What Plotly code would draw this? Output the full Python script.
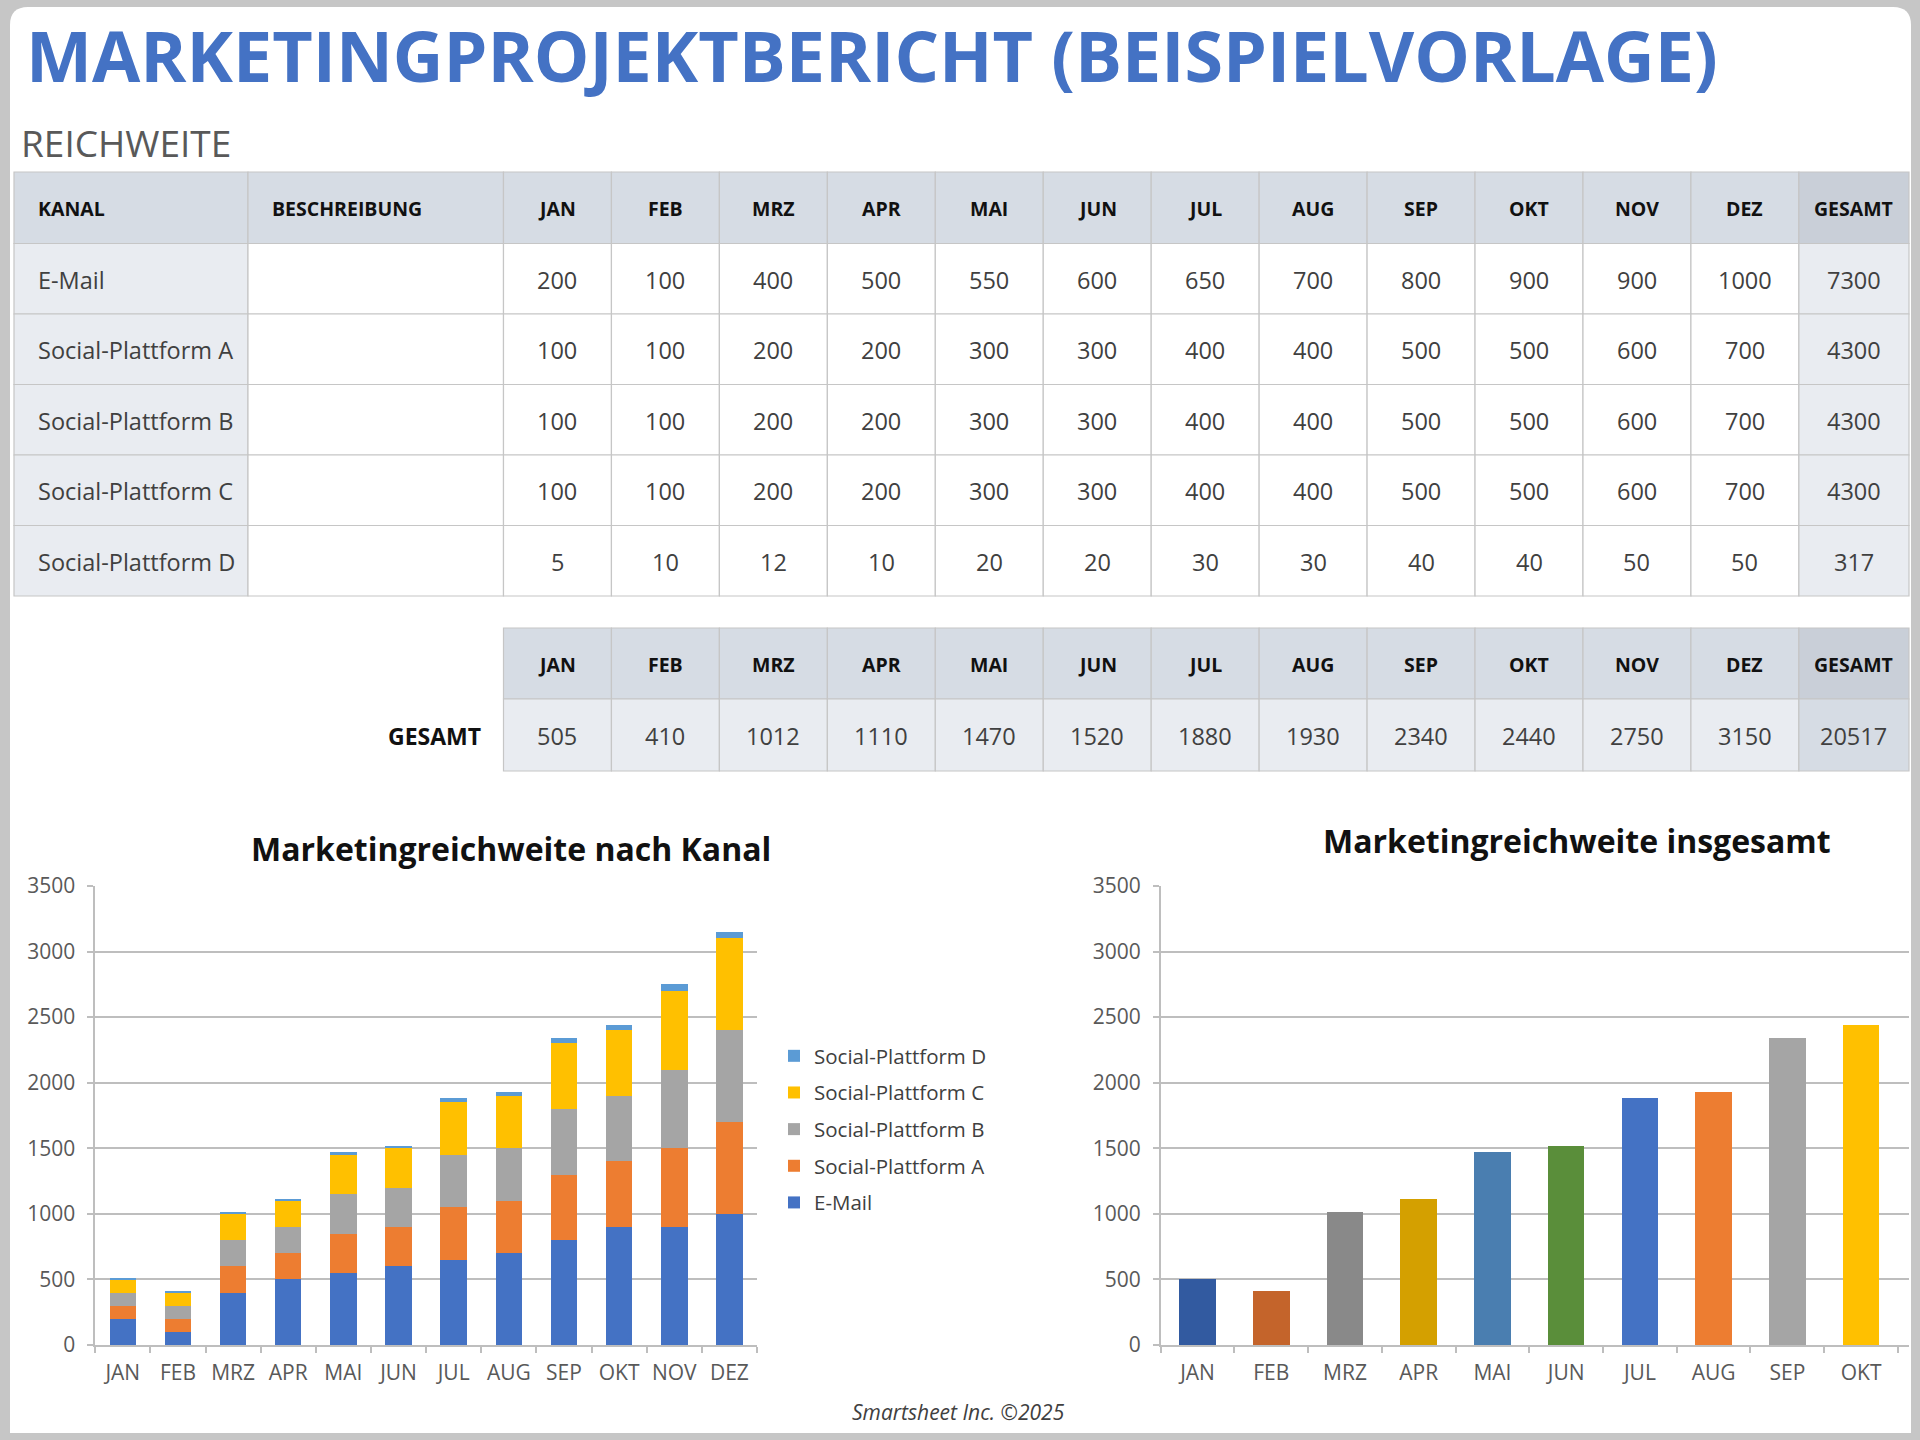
import plotly.graph_objects as go

# ---------------- data ----------------
months = ["JAN", "FEB", "MRZ", "APR", "MAI", "JUN", "JUL", "AUG", "SEP", "OKT", "NOV", "DEZ"]
channels = ["E-Mail", "Social-Plattform A", "Social-Plattform B", "Social-Plattform C", "Social-Plattform D"]
email = [200, 100, 400, 500, 550, 600, 650, 700, 800, 900, 900, 1000]
plat_a = [100, 100, 200, 200, 300, 300, 400, 400, 500, 500, 600, 700]
plat_b = [100, 100, 200, 200, 300, 300, 400, 400, 500, 500, 600, 700]
plat_c = [100, 100, 200, 200, 300, 300, 400, 400, 500, 500, 600, 700]
plat_d = [5, 10, 12, 10, 20, 20, 30, 30, 40, 40, 50, 50]
channel_totals = [7300, 4300, 4300, 4300, 317]
month_totals = [505, 410, 1012, 1110, 1470, 1520, 1880, 1930, 2340, 2440, 2750, 3150]
grand_total = 20517
series = [email, plat_a, plat_b, plat_c, plat_d]

# ---------------- styling ----------------
W, H = 1920, 1440
FONT = "Open Sans"
channel_colors = ["#4472C4", "#ED7D31", "#A5A5A5", "#FFC000", "#5B9BD5"]
month_colors = ["#325AA0", "#C4642B", "#898989", "#D4A000", "#4A7EB0", "#5A8E3A",
                "#4472C4", "#ED7D31", "#A5A5A5", "#FFC000", "#5B9BD5", "#70AD47"]
HEAD = "#D6DCE4"
HEAD_DARK = "#C9CFD8"
LIGHT = "#E9ECF1"
BORDER = "#C6C6C6"
TXT = "#404040"
GRID = "#BEBEBE"


def px(x):
    return x / W


def py(y):
    return 1 - y / H


shapes = []
annotations = []

# outer frame: white panel with rounded top corners over grey background
r = 18
x0p, x1p, y0p, y1p = 10, 1911, 7, 1433
path = (f"M {px(x0p)},{py(y1p)} L {px(x0p)},{py(y0p + r)} "
        f"Q {px(x0p)},{py(y0p)} {px(x0p + r)},{py(y0p)} "
        f"L {px(x1p - r)},{py(y0p)} Q {px(x1p)},{py(y0p)} {px(x1p)},{py(y0p + r)} "
        f"L {px(x1p)},{py(y1p)} Z")
shapes.append(dict(type="path", xref="paper", yref="paper", path=path,
                   fillcolor="white", line=dict(width=0), layer="below"))


def cell(x0, x1, y0, y1, fill, text, font, align="center", pad=22):
    shapes.append(dict(type="rect", xref="paper", yref="paper",
                       x0=px(x0), x1=px(x1), y0=py(y1), y1=py(y0),
                       fillcolor=fill, line=dict(color=BORDER, width=1.2), layer="below"))
    if text != "":
        if align == "left":
            ax, xa = x0 + pad, "left"
        else:
            ax, xa = (x0 + x1) / 2, "center"
        annotations.append(dict(xref="paper", yref="paper", x=px(ax), y=py((y0 + y1) / 2 + 1),
                                text=text, showarrow=False, xanchor=xa, yanchor="middle",
                                font=font))


head_font = dict(family=FONT, size=19.5, color="#111111")
body_font = dict(family=FONT, size=23.5, color=TXT)

# column edges
mw = 107.95
col_edges = [14, 248, 503.5] + [503.5 + mw * i for i in range(1, 13)] + [1909]
row_edges = [172, 243.5, 314, 384.5, 455, 525.5, 596]

# table 1 header
headers = ["KANAL", "BESCHREIBUNG"] + months + ["GESAMT"]
for j, h in enumerate(headers):
    fill = HEAD_DARK if h == "GESAMT" else HEAD
    align = "left" if j < 2 else "center"
    cell(col_edges[j], col_edges[j + 1], row_edges[0], row_edges[1], fill,
         f"<b>{h}</b>", head_font, align=align)

# table 1 body
for i, ch in enumerate(channels):
    y0, y1 = row_edges[i + 1], row_edges[i + 2]
    cell(col_edges[0], col_edges[1], y0, y1, LIGHT, ch, body_font, align="left")
    cell(col_edges[1], col_edges[2], y0, y1, "white", "", body_font)
    for m in range(12):
        cell(col_edges[m + 2], col_edges[m + 3], y0, y1, "white", str(series[i][m]), body_font)
    cell(col_edges[14], col_edges[15], y0, y1, LIGHT, str(channel_totals[i]), body_font)

# table 2
t2_rows = [628, 699, 771]
for m in range(12):
    cell(col_edges[m + 2], col_edges[m + 3], t2_rows[0], t2_rows[1], HEAD, f"<b>{months[m]}</b>", head_font)
    cell(col_edges[m + 2], col_edges[m + 3], t2_rows[1], t2_rows[2], LIGHT, str(month_totals[m]), body_font)
cell(col_edges[14], col_edges[15], t2_rows[0], t2_rows[1], HEAD_DARK, "<b>GESAMT</b>", head_font)
cell(col_edges[14], col_edges[15], t2_rows[1], t2_rows[2], HEAD, str(grand_total), body_font)
annotations.append(dict(xref="paper", yref="paper", x=px(483), y=py(736), text="<b>GESAMT</b>",
                        showarrow=False, xanchor="right", yanchor="middle",
                        font=dict(family=FONT, size=23, color="#111111")))

# page titles
annotations.append(dict(xref="paper", yref="paper", x=px(24), y=py(55),
                        text="<b>MARKETINGPROJEKTBERICHT (BEISPIELVORLAGE)</b>",
                        showarrow=False, xanchor="left", yanchor="middle",
                        font=dict(family=FONT, size=70, color="#4472C4")))
annotations.append(dict(xref="paper", yref="paper", x=px(19), y=py(143), text="REICHWEITE",
                        showarrow=False, xanchor="left", yanchor="middle",
                        font=dict(family=FONT, size=37, color="#595959")))
# chart titles
annotations.append(dict(xref="paper", yref="paper", x=px(511), y=py(848),
                        text="<b>Marketingreichweite nach Kanal</b>", showarrow=False,
                        xanchor="center", yanchor="middle",
                        font=dict(family=FONT, size=32, color="#111111")))
annotations.append(dict(xref="paper", yref="paper", x=px(1577), y=py(840),
                        text="<b>Marketingreichweite insgesamt</b>", showarrow=False,
                        xanchor="center", yanchor="middle",
                        font=dict(family=FONT, size=32, color="#111111")))
# footer
annotations.append(dict(xref="paper", yref="paper", x=px(958), y=py(1412),
                        text="<i>Smartsheet Inc. ©2025</i>", showarrow=False,
                        xanchor="center", yanchor="middle",
                        font=dict(family=FONT, size=21, color=TXT)))

# ---------------- charts ----------------
fig = go.Figure()
for k, (name, vals, col) in enumerate(zip(channels, series, channel_colors)):
    fig.add_trace(go.Bar(x=months, y=vals, name=name, marker=dict(color=col, line=dict(width=0)),
                         width=0.48, legendgroup=name, legendrank=100 - k,
                         xaxis="x", yaxis="y"))

fig.add_trace(go.Bar(x=months, y=month_totals, marker=dict(color=month_colors, line=dict(width=0)),
                     width=0.495, showlegend=False, xaxis="x2", yaxis="y2"))

axis_common_x = dict(type="category", showline=True, linecolor=GRID, linewidth=1.5,
                     ticks="outside", tickson="boundaries", ticklen=6, tickcolor=GRID,
                     tickwidth=1.5, showgrid=False, ticklabelstandoff=8, automargin=False,
                     tickfont=dict(family=FONT, size=21, color="#595959"))
axis_common_y = dict(range=[0, 3500], dtick=500, showline=True, linecolor=GRID, linewidth=1.5,
                     ticks="outside", ticklen=6, tickcolor=GRID, tickwidth=1.5,
                     showgrid=True, gridcolor=GRID, gridwidth=1.5, zeroline=False,
                     ticklabelstandoff=8, automargin=False,
                     tickfont=dict(family=FONT, size=21, color="#595959"))

fig.update_layout(
    width=W, height=H,
    margin=dict(l=0, r=0, t=0, b=0, pad=0, autoexpand=False),
    paper_bgcolor="#C6C6C6",
    plot_bgcolor="white",
    barmode="stack",
    showlegend=True,
    xaxis=dict(domain=[px(95.2), px(757)], range=[-0.5, 11.5], anchor="y", **axis_common_x),
    yaxis=dict(domain=[py(1345), py(886)], anchor="x", **axis_common_y),
    xaxis2=dict(domain=[px(1160.7), px(1909)], range=[-0.5, 9.65], anchor="y2", **axis_common_x),
    yaxis2=dict(domain=[py(1345), py(886)], anchor="x2", **axis_common_y),
    legend=dict(x=px(774), y=py(1036), xanchor="left", yanchor="top",
                traceorder="grouped", tracegroupgap=7,
                bgcolor="rgba(0,0,0,0)", font=dict(family=FONT, size=20.5, color=TXT),
                itemwidth=30),
    shapes=shapes,
    annotations=annotations,
)

post = ("document.documentElement.style.margin='0';document.documentElement.style.overflow='hidden';"
        "document.body.style.margin='0';document.body.style.overflow='hidden';"
        "var gd=document.querySelector('.plotly-graph-div');"
        "gd.style.position='fixed';gd.style.left='0px';gd.style.top='0px';")

fig.write_html("out.html", config={"displayModeBar": False}, post_script=post)
